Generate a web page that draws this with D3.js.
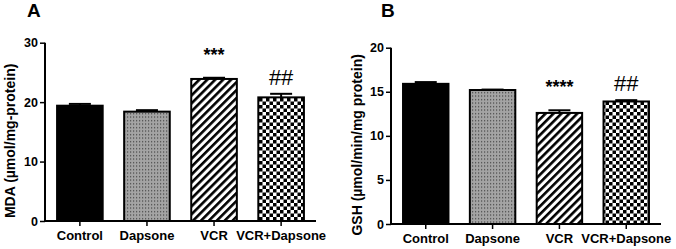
<!DOCTYPE html>
<html>
<head>
<meta charset="utf-8">
<script src="https://cdn.jsdelivr.net/npm/d3@7"></script>
<style>
  body { margin: 0; background: #fff; }
  text { font-family: "Liberation Sans", Arial, sans-serif; }
</style>
</head>
<body>
<div id="chart"></div>
<script>
// data
const categories = ["Control", "Dapsone", "VCR", "VCR+Dapsone"];
const mdaMean = [19.4, 18.4, 23.9, 20.8];
const mdaSem = [0.3, 0.25, 0.2, 0.6];
const mdaSig = ["", "", "***", "##"];
const mdaTicks = [0, 10, 20, 30];
const gshMean = [15.9, 15.2, 12.6, 13.9];
const gshSem = [0.2, 0.05, 0.3, 0.15];
const gshSig = ["", "", "****", "##"];
const gshTicks = [0, 5, 10, 15, 20];
const fills = ["#000", "url(#dots)", "url(#stripes)", "url(#checks)"];

const width = 676, height = 249;

const svg = d3.select("#chart").append("svg")
  .attr("width", width)
  .attr("height", height);

// fill patterns
const defs = svg.append("defs");

const dots = defs.append("pattern").attr("id", "dots")
  .attr("patternUnits", "userSpaceOnUse").attr("width", 3).attr("height", 3.5);
dots.append("rect").attr("width", 3).attr("height", 3.5).attr("fill", "#a4a4a4");
dots.append("rect").attr("x", 1).attr("y", 1).attr("width", 1.2).attr("height", 1.2).attr("fill", "#444");

const stripes = defs.append("pattern").attr("id", "stripes")
  .attr("patternUnits", "userSpaceOnUse").attr("width", 5.6).attr("height", 10)
  .attr("patternTransform", "rotate(45)");
stripes.append("rect").attr("width", 5.6).attr("height", 10).attr("fill", "#fff");
stripes.append("rect").attr("width", 2.6).attr("height", 10).attr("fill", "#000");

const checks = defs.append("pattern").attr("id", "checks")
  .attr("patternUnits", "userSpaceOnUse").attr("width", 7).attr("height", 7);
checks.append("rect").attr("width", 7).attr("height", 7).attr("fill", "#fff");
checks.append("rect").attr("width", 3.5).attr("height", 3.5).attr("fill", "#000");
checks.append("rect").attr("x", 3.5).attr("y", 3.5).attr("width", 3.5).attr("height", 3.5).attr("fill", "#000");

function drawPanel(o) {
  const g = svg.append("g");

  const x = d3.scaleBand()
    .domain(categories)
    .range([o.left, o.right])
    .paddingInner(0.32)
    .paddingOuter(0.18);

  const y = d3.scaleLinear()
    .domain([0, o.max])
    .range([o.bottom, o.top]);

  // bars
  g.selectAll("rect.bar")
    .data(o.mean)
    .enter().append("rect")
    .attr("class", "bar")
    .attr("x", (d, i) => x(categories[i]))
    .attr("width", x.bandwidth())
    .attr("y", d => y(d))
    .attr("height", d => y(0) - y(d))
    .attr("fill", (d, i) => fills[i])
    .attr("stroke", "#000")
    .attr("stroke-width", 2);

  // error bars (upper only)
  const cx = i => x(categories[i]) + x.bandwidth() / 2;
  g.selectAll("line.err")
    .data(o.mean)
    .enter().append("line")
    .attr("x1", (d, i) => cx(i)).attr("x2", (d, i) => cx(i))
    .attr("y1", d => y(d))
    .attr("y2", (d, i) => y(d + o.sem[i]))
    .attr("stroke", "#000").attr("stroke-width", 2);
  g.selectAll("line.cap")
    .data(o.mean)
    .enter().append("line")
    .attr("x1", (d, i) => cx(i) - 11).attr("x2", (d, i) => cx(i) + 11)
    .attr("y1", (d, i) => y(d + o.sem[i]))
    .attr("y2", (d, i) => y(d + o.sem[i]))
    .attr("stroke", "#000").attr("stroke-width", 2);

  // significance marks
  g.selectAll("text.sig")
    .data(o.sig)
    .enter().append("text")
    .attr("x", (d, i) => cx(i))
    .attr("y", (d, i) => y(o.mean[i] + o.sem[i]) - (d[0] === "#" ? 9 : 17))
    .attr("text-anchor", "middle")
    .style("font-size", d => d[0] === "#" ? "22px" : "18px")
    .style("font-weight", d => d[0] === "#" ? "normal" : "bold")
    .text(d => d);

  // axes
  const yAxis = g.append("g")
    .attr("transform", `translate(${o.left},0)`)
    .call(d3.axisLeft(y).tickValues(o.ticks).tickSize(5).tickPadding(2));
  const xAxis = g.append("g")
    .attr("transform", `translate(0,${o.bottom})`)
    .call(d3.axisBottom(x).tickSize(5).tickPadding(5));
  xAxis.select(".domain").attr("d", `M${o.left},0H${o.right}`);
  yAxis.select(".domain").attr("d", `M0,${o.top}V${o.bottom}`);
  g.selectAll(".domain").attr("stroke-width", 2);
  g.selectAll(".tick line").attr("stroke-width", 1.5);
  yAxis.selectAll("text").style("font-size", "12.5px").style("font-weight", "bold").attr("font-family", null);
  xAxis.selectAll("text").style("font-size", "13px").style("font-weight", "bold").attr("font-family", null);

  // y title
  g.append("text")
    .attr("transform", `translate(${o.titleX},${(o.top + o.bottom) / 2 + 9}) rotate(-90)`)
    .attr("text-anchor", "middle")
    .attr("dominant-baseline", "central")
    .style("font-size", "14px")
    .style("font-weight", "bold")
    .text(o.title);

  // panel letter
  g.append("text")
    .attr("x", o.letterX).attr("y", 17)
    .style("font-size", "19px")
    .style("font-weight", "bold")
    .text(o.letter);
}

drawPanel({
  left: 45, right: 316, top: 42.7, bottom: 221, max: 30,
  mean: mdaMean, sem: mdaSem, sig: mdaSig, ticks: mdaTicks,
  title: "MDA (µmol/mg-protein)", titleX: 10, letter: "A", letterX: 27
});

drawPanel({
  left: 391, right: 661, top: 47.7, bottom: 224, max: 20,
  mean: gshMean, sem: gshSem, sig: gshSig, ticks: gshTicks,
  title: "GSH (µmol/min/mg protein)", titleX: 357, letter: "B", letterX: 381
});
</script>
</body>
</html>
